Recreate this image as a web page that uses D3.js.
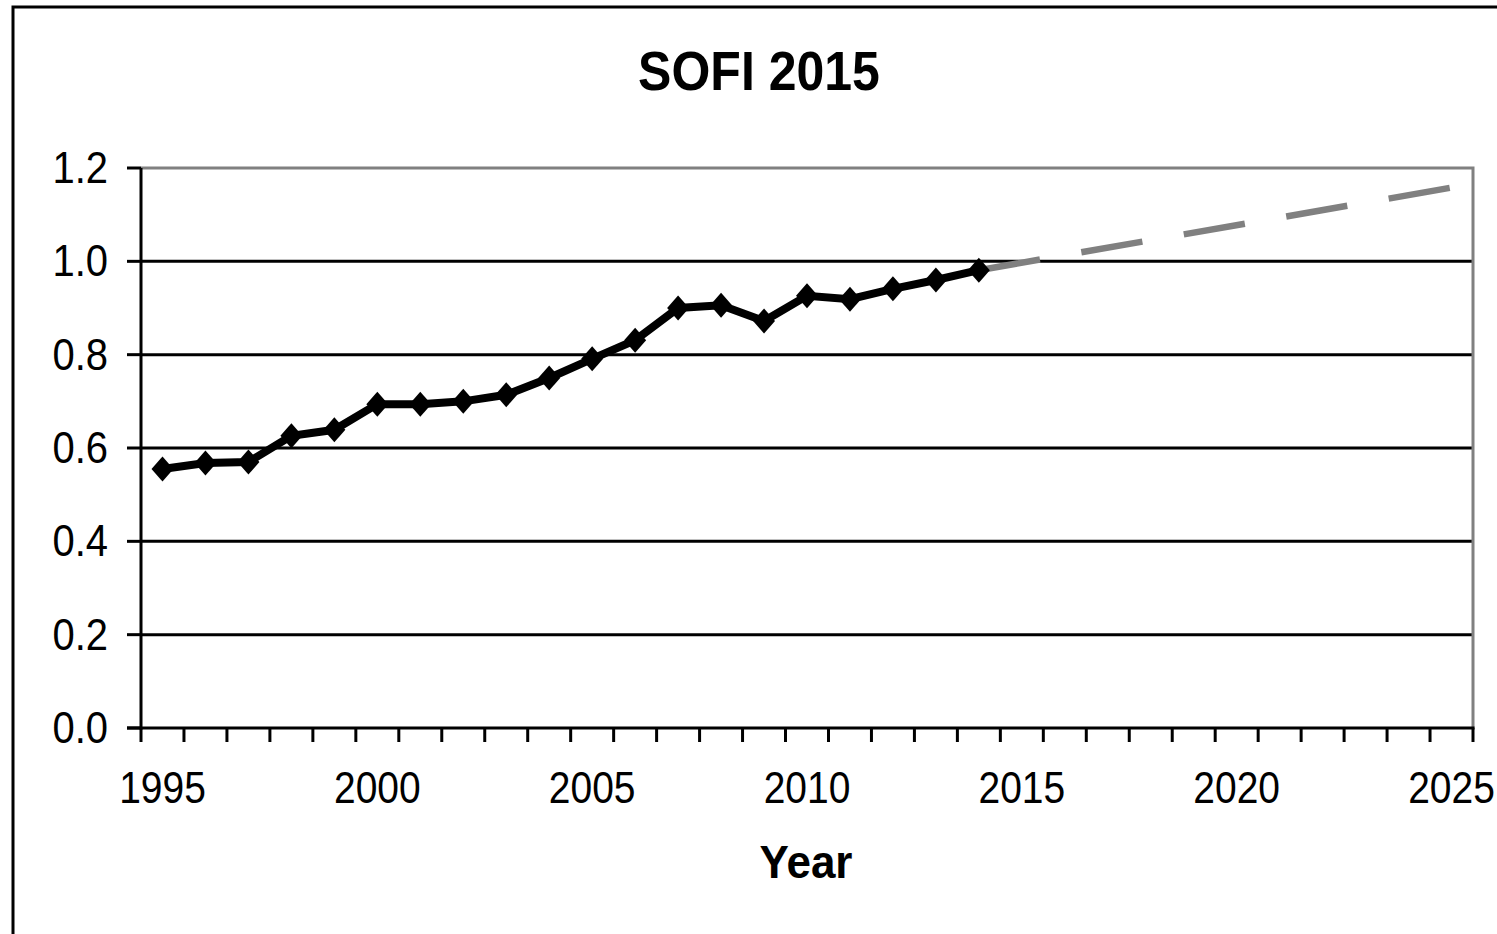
<!DOCTYPE html>
<html>
<head>
<meta charset="utf-8">
<script src="https://cdn.jsdelivr.net/npm/d3@7"></script>
<style>
  body { margin: 0; background: #fff; }
  text { font-family: "Liberation Sans", Arial, sans-serif; fill: #000; }
</style>
</head>
<body>
<div id="chart"></div>
<script>
// data
const years = d3.range(1995, 2026);
const obsYears = [1995, 1996, 1997, 1998, 1999, 2000, 2001, 2002, 2003, 2004,
                  2005, 2006, 2007, 2008, 2009, 2010, 2011, 2012, 2013, 2014];
const obsValues = [0.555, 0.568, 0.570, 0.626, 0.639, 0.694, 0.694, 0.700, 0.714, 0.750,
                   0.791, 0.831, 0.900, 0.906, 0.872, 0.926, 0.919, 0.941, 0.960, 0.981];
const projYears = [2014, 2025];
const projValues = [0.981, 1.158];
const yTicks = [0, 0.2, 0.4, 0.6, 0.8, 1.0, 1.2];
const xLabels = [1995, 2000, 2005, 2010, 2015, 2020, 2025];

const W = 1497, H = 934;
const plotL = 141, plotR = 1473, plotT = 168, plotB = 728;

const svg = d3.select("#chart").append("svg")
  .attr("width", W).attr("height", H);

// outer frame (only left/top visible in the crop)
svg.append("rect")
  .attr("x", 13).attr("y", 7)
  .attr("width", W + 20).attr("height", H + 20)
  .attr("fill", "none").attr("stroke", "#000").attr("stroke-width", 3);

let x = d3.scaleBand().domain(years).range([plotL, plotR]);
let y = d3.scaleLinear().domain([0, 1.2]).range([plotB, plotT]);
let cx = d => x(d) + x.bandwidth() / 2;

// gridlines
svg.selectAll(".grid").data(yTicks.filter(d => d > 0 && d < 1.2))
  .enter().append("line")
  .attr("class", "grid")
  .attr("x1", plotL).attr("x2", plotR)
  .attr("y1", d => y(d)).attr("y2", d => y(d))
  .attr("stroke", "#000").attr("stroke-width", 3);

// plot border top/right in gray
svg.append("path")
  .attr("d", `M${plotL},${y(1.2)}H${plotR}V${plotB}`)
  .attr("fill", "none").attr("stroke", "#808080").attr("stroke-width", 3);

// y axis
svg.append("line")
  .attr("x1", plotL).attr("x2", plotL).attr("y1", plotT).attr("y2", plotB + 1.5)
  .attr("stroke", "#000").attr("stroke-width", 3);
svg.selectAll(".ytick").data(yTicks).enter().append("line")
  .attr("x1", plotL - 14).attr("x2", plotL)
  .attr("y1", d => y(d)).attr("y2", d => y(d))
  .attr("stroke", "#000").attr("stroke-width", 3);
svg.selectAll(".ylab").data(yTicks).enter().append("text")
  .attr("text-anchor", "end")
  .attr("font-size", 40)
  .attr("transform", d => `translate(108,${y(d) + 15}) scale(1,1.12)`)
  .text(d => d.toFixed(1));

// x axis
svg.append("line")
  .attr("x1", plotL - 14).attr("x2", plotR + 1.5).attr("y1", plotB).attr("y2", plotB)
  .attr("stroke", "#000").attr("stroke-width", 3);
const bounds = years.map(d => x(d)).concat([plotR]);
svg.selectAll(".xtick").data(bounds).enter().append("line")
  .attr("x1", d => d).attr("x2", d => d)
  .attr("y1", plotB).attr("y2", plotB + 14)
  .attr("stroke", "#000").attr("stroke-width", 3);
svg.selectAll(".xlab").data(xLabels).enter().append("text")
  .attr("text-anchor", "middle")
  .attr("font-size", 39)
  .attr("transform", d => `translate(${cx(d)},803) scale(1,1.12)`)
  .text(d => d);

// projection (gray dashed)
let line = d3.line().x(d => cx(d[0])).y(d => y(d[1]));
svg.append("path")
  .datum(projYears.map((d, i) => [d, projValues[i]]))
  .attr("d", line)
  .attr("fill", "none").attr("stroke", "#808080")
  .attr("stroke-width", 6.5).attr("stroke-dasharray", "62,42");

// observed series
let obs = obsYears.map((d, i) => [d, obsValues[i]]);
svg.append("path")
  .datum(obs)
  .attr("d", line)
  .attr("fill", "none").attr("stroke", "#000")
  .attr("stroke-width", 8).attr("stroke-linejoin", "miter");
svg.selectAll(".mk").data(obs).enter().append("path")
  .attr("d", "M0,-12.5L11,0L0,12.5L-11,0Z")
  .attr("transform", d => `translate(${cx(d[0])},${y(d[1])})`)
  .attr("fill", "#000");

// titles
svg.append("text")
  .attr("text-anchor", "middle").attr("font-weight", "bold").attr("font-size", 50)
  .attr("transform", "translate(759,90) scale(1,1.12)")
  .text("SOFI 2015");
svg.append("text")
  .attr("text-anchor", "middle").attr("font-weight", "bold").attr("font-size", 44)
  .attr("transform", "translate(806,878) scale(1,1.05)")
  .text("Year");
</script>
</body>
</html>
